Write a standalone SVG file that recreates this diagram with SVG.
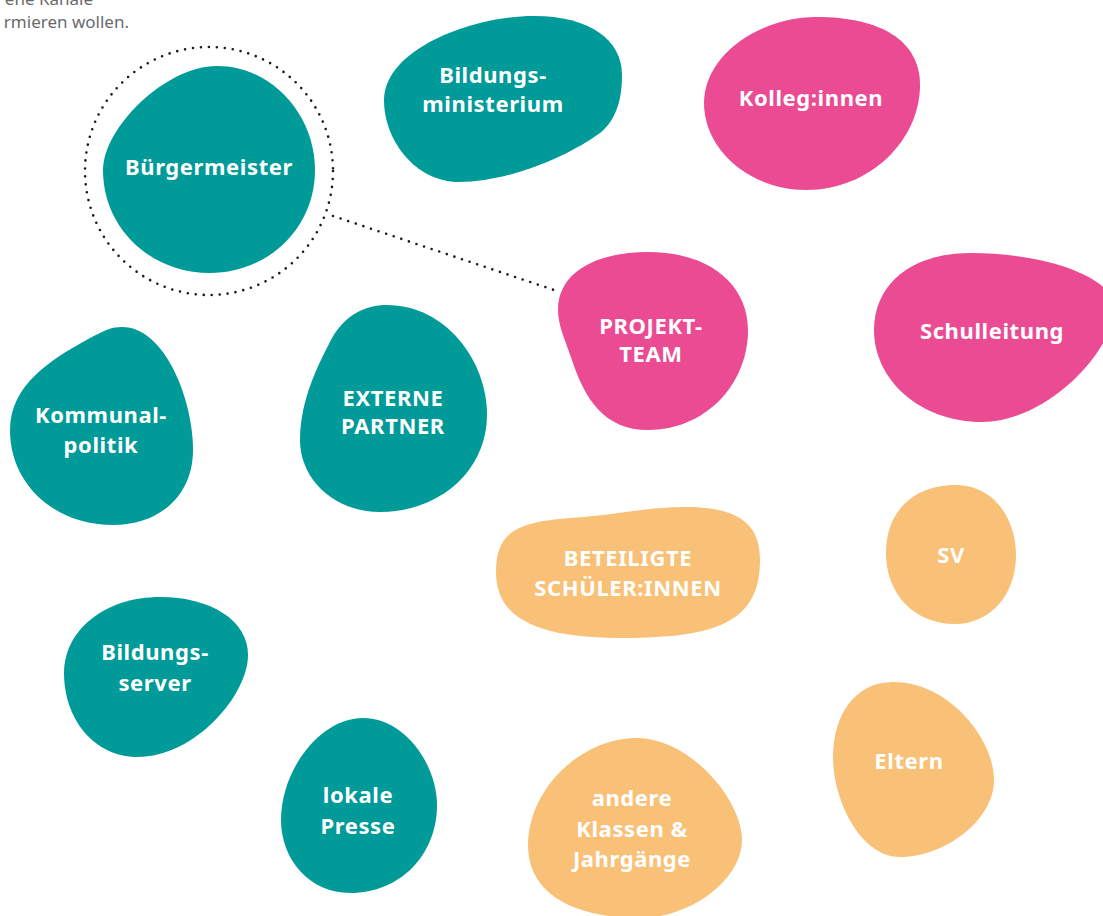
<svg xmlns="http://www.w3.org/2000/svg" width="1103" height="916" viewBox="0 0 1103 916">
<style>
.teal{fill:#009a98}
.pink{fill:#ea4b93}
.orange{fill:#f9c177}
.lbl{font-family:"Noto Sans","Liberation Sans",sans-serif;font-weight:700;font-size:22px;fill:#ffffff;text-anchor:middle;letter-spacing:0.6px}
.note{font-family:"Noto Sans","Liberation Sans",sans-serif;font-size:17px;fill:#6a6a6a;text-anchor:end}
.dots{fill:none;stroke:#1a1a1a;stroke-width:2.6;stroke-linecap:round;stroke-dasharray:0 8}
</style>
<rect width="1103" height="916" fill="#ffffff"/>
<g id="note">
<text class="note" x="93" y="5">ene Kanäle</text>
<text class="note" x="129" y="28">rmieren wollen.</text>
</g>
<g id="connectors">
<circle class="dots" cx="209" cy="171" r="124"/>
<line class="dots" x1="333" y1="216" x2="557" y2="291"/>
</g>
<g id="buergermeister">
<path class="teal" d="M217,66 C272,66 315,115 315,170 C315,228 268,273 210,273 C150,273 103,228 103,170 C103,128 165,66 217,66 Z"/>
<text class="lbl" x="209" y="175">Bürgermeister</text>
</g>
<g id="bildungsministerium">
<path class="teal" d="M384,100 C384,50 470,16 534,16 C590,16 622,40 622,75 C622,100 616,120 600,133 C570,155 510,182 459,182 C415,182 384,140 384,100 Z"/>
<text class="lbl" x="493" y="83">Bildungs-</text>
<text class="lbl" x="493" y="112">ministerium</text>
</g>
<g id="kolleginnen">
<path class="pink" d="M704,103 C704,55 760,17 816,17 C880,17 920,40 920,85 C920,140 870,190 806,190 C750,190 704,150 704,103 Z"/>
<text class="lbl" x="811" y="106">Kolleg:innen</text>
</g>
<g id="projektteam">
<path class="pink" d="M558,310 C558,270 600,252 648,252 C710,252 748,285 748,330 C748,385 705,430 648,430 C605,430 585,400 572,360 C565,340 558,325 558,310 Z"/>
<text class="lbl" x="651" y="334">PROJEKT-</text>
<text class="lbl" x="651" y="362">TEAM</text>
</g>
<g id="schulleitung">
<path class="pink" d="M874,330 C874,285 910,253 971,253 C1030,253 1095,268 1115,300 C1120,345 1050,422 982,422 C920,422 874,380 874,330 Z"/>
<text class="lbl" x="992" y="339">Schulleitung</text>
</g>
<g id="kommunalpolitik">
<path class="teal" d="M10,430 C10,385 50,360 90,338 C105,330 112,327 122,327 C165,327 193,400 193,450 C193,495 160,525 113,525 C55,525 10,485 10,430 Z"/>
<text class="lbl" x="101" y="423">Kommunal-</text>
<text class="lbl" x="101" y="453">politik</text>
</g>
<g id="externe-partner">
<path class="teal" d="M300,440 C300,400 318,365 332,338 C345,315 365,305 387,305 C445,305 487,360 487,415 C487,470 440,512 380,512 C335,512 300,480 300,440 Z"/>
<text class="lbl" x="393" y="406">EXTERNE</text>
<text class="lbl" x="393" y="434">PARTNER</text>
</g>
<g id="beteiligte-schueler">
<path class="orange" d="M496,572 C496,530 520,522 570,518 C620,515 650,506 690,507 C740,508 760,525 760,560 C760,620 720,638 623,638 C540,638 496,620 496,572 Z"/>
<text class="lbl" x="628" y="566">BETEILIGTE</text>
<text class="lbl" x="628" y="596">SCHÜLER:INNEN</text>
</g>
<g id="sv">
<path class="orange" d="M886,553 C886,510 915,485 955,485 C995,485 1016,520 1016,555 C1016,595 990,624 955,624 C915,624 886,595 886,553 Z"/>
<text class="lbl" x="951" y="563">SV</text>
</g>
<g id="bildungsserver">
<path class="teal" d="M64,673 C64,630 105,597 160,597 C210,597 248,620 248,655 C248,695 195,757 137,757 C95,757 64,720 64,673 Z"/>
<text class="lbl" x="155" y="660">Bildungs-</text>
<text class="lbl" x="155" y="691">server</text>
</g>
<g id="lokale-presse">
<path class="teal" d="M281,820 C281,770 320,718 363,718 C405,718 437,765 437,805 C437,855 400,893 350,893 C310,893 281,860 281,820 Z"/>
<text class="lbl" x="358" y="803">lokale</text>
<text class="lbl" x="358" y="834">Presse</text>
</g>
<g id="andere-klassen">
<path class="orange" d="M528,845 C528,790 580,738 637,738 C690,738 742,800 742,840 C742,880 690,918 640,918 C575,918 528,895 528,845 Z"/>
<text class="lbl" x="632" y="806">andere</text>
<text class="lbl" x="632" y="837">Klassen &amp;</text>
<text class="lbl" x="632" y="867">Jahrgänge</text>
</g>
<g id="eltern">
<path class="orange" d="M833,757 C833,715 855,682 893,682 C950,682 994,740 994,780 C994,820 945,857 900,857 C860,857 833,800 833,757 Z"/>
<text class="lbl" x="909" y="769">Eltern</text>
</g>
</svg>
